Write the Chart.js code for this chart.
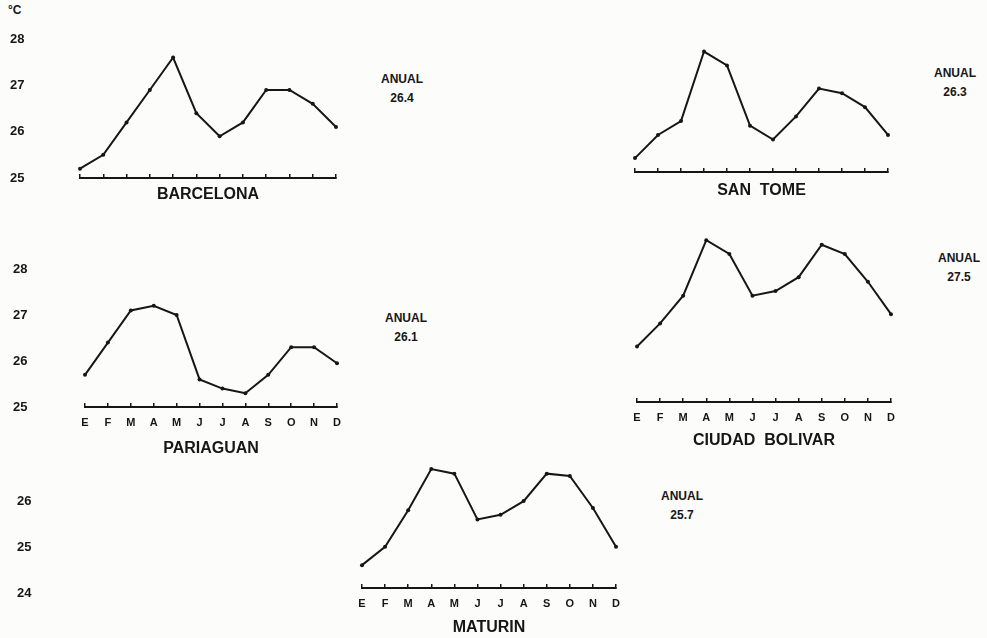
<!DOCTYPE html>
<html>
<head>
<meta charset="utf-8">
<title>Temperatura media mensual</title>
<script src="https://cdn.jsdelivr.net/npm/chart.js"></script>
<style>
  body { margin: 0; width: 987px; height: 638px; position: relative; overflow: hidden;
         background: #fcfcfb; color: #161616; font-family: "Liberation Sans", Arial, sans-serif; }
  canvas { position: absolute; }
  .anual { position: absolute; width: 70px; text-align: center; font-weight: bold;
           font-size: 12px; line-height: 19px; }
  #unit { position: absolute; left: 8px; top: 3px; font-size: 12px; font-weight: bold; }
</style>
</head>
<body>
  <div id="unit">°C</div>
  <canvas id="barcelona" width="360" height="215" style="left:0;top:0"></canvas>
  <canvas id="santome" width="290" height="210" style="left:620px;top:0"></canvas>
  <canvas id="pariaguan" width="360" height="220" style="left:0;top:240px"></canvas>
  <canvas id="bolivar" width="290" height="255" style="left:620px;top:200px"></canvas>
  <canvas id="maturin" width="640" height="198" style="left:0;top:440px"></canvas>
  <script>
    // monthly mean temperatures (°C)
    const months = ['E', 'F', 'M', 'A', 'M', 'J', 'J', 'A', 'S', 'O', 'N', 'D'];
    const barcelona = [25.2, 25.5, 26.2, 26.9, 27.6, 26.4, 25.9, 26.2, 26.9, 26.9, 26.6, 26.1];
    const sanTome = [25.3, 25.8, 26.1, 27.6, 27.3, 26.0, 25.7, 26.2, 26.8, 26.7, 26.4, 25.8];
    const pariaguan = [25.7, 26.4, 27.1, 27.2, 27.0, 25.6, 25.4, 25.3, 25.7, 26.3, 26.3, 25.95];
    const ciudadBolivar = [26.2, 26.7, 27.3, 28.5, 28.2, 27.3, 27.4, 27.7, 28.4, 28.2, 27.6, 26.9];
    const maturin = [24.5, 24.9, 25.7, 26.6, 26.5, 25.5, 25.6, 25.9, 26.5, 26.45, 25.75, 24.9];
    const annual = ['26.4', '26.3', '26.1', '27.5', '25.7'];
    const ticksUpper = [25, 26, 27, 28];
    const ticksLower = [24, 25, 26];

    const INK = '#161616';
    const FONT = '"Liberation Sans", Arial, sans-serif';

    function stationChart(id, name, values, c) {
      return new Chart(document.getElementById(id), {
        type: 'line',
        data: {
          labels: months,
          datasets: [{
            data: values,
            borderColor: INK,
            borderWidth: 2,
            tension: 0,
            pointRadius: 2,
            pointBorderWidth: 0,
            pointBackgroundColor: INK,
          }],
        },
        options: {
          responsive: false,
          animation: false,
          layout: { padding: c.padding },
          plugins: { legend: { display: false }, tooltip: { enabled: false } },
          scales: {
            x: {
              offset: false,
              border: { display: true, color: INK, width: 2 },
              grid: { drawOnChartArea: false, drawTicks: true, tickLength: -4, color: INK, lineWidth: 1.5 },
              ticks: {
                display: c.showMonths, autoSkip: false, maxRotation: 0, padding: 13,
                color: INK, font: { family: FONT, size: 11, weight: 'bold' },
              },
              title: {
                display: true, text: name, color: INK,
                font: { family: FONT, size: 16, weight: 'bold' },
                padding: { top: 0, bottom: c.titlePad },
              },
              afterFit: s => { s.height = c.xHeight; },
            },
            y: {
              display: !!c.yTicks,
              min: c.yMin,
              max: c.yMax,
              border: { display: false },
              grid: { display: false },
              ticks: {
                stepSize: 1, crossAlign: 'far', labelOffset: c.labelOffset || 0,
                color: INK, font: { family: FONT, size: 13, weight: 'bold' },
                callback: v => (c.yTicks && c.yTicks.includes(v)) ? v : '',
              },
              afterFit: s => { s.width = c.yWidth || 0; },
            },
          },
        },
      });
    }

    stationChart('barcelona', 'BARCELONA', barcelona, {
      padding: { left: 10, top: 39, right: 24, bottom: 0 },
      yWidth: 70, xHeight: 37, yMin: 25, yMax: 28, yTicks: ticksUpper,
      showMonths: false, titlePad: 11,
    });
    stationChart('santome', 'SAN  TOME', sanTome, {
      padding: { left: 15, top: 33, right: 22, bottom: 0 },
      xHeight: 38, yMin: 25, yMax: 28, showMonths: false, titlePad: 10,
    });
    stationChart('pariaguan', 'PARIAGUAN', pariaguan, {
      padding: { left: 13, top: 29, right: 23, bottom: 0 },
      yWidth: 72, xHeight: 53, yMin: 25, yMax: 28, yTicks: ticksUpper,
      showMonths: true, titlePad: 2,
    });
    stationChart('bolivar', 'CIUDAD  BOLIVAR', ciudadBolivar, {
      padding: { left: 17, top: 17, right: 19, bottom: 0 },
      xHeight: 53, yMin: 25, yMax: 29, showMonths: true, titlePad: 5,
    });
    stationChart('maturin', 'MATURIN', maturin, {
      padding: { left: 17, top: 10, right: 24, bottom: 0 },
      yWidth: 345, xHeight: 50, yMin: 24, yMax: 27, yTicks: ticksLower, labelOffset: 5,
      showMonths: true, titlePad: 1,
    });

    // "ANUAL" boxes beside each graph
    const anualSpots = [[402, 79], [955, 73], [406, 318], [959, 258], [682, 496]];
    anualSpots.forEach(([cx, cy], i) => {
      const d = document.createElement('div');
      d.className = 'anual';
      d.style.left = (cx - 35) + 'px';
      d.style.top = (cy - 9) + 'px';
      d.innerHTML = 'ANUAL<br>' + annual[i];
      document.body.appendChild(d);
    });
  </script>
</body>
</html>
